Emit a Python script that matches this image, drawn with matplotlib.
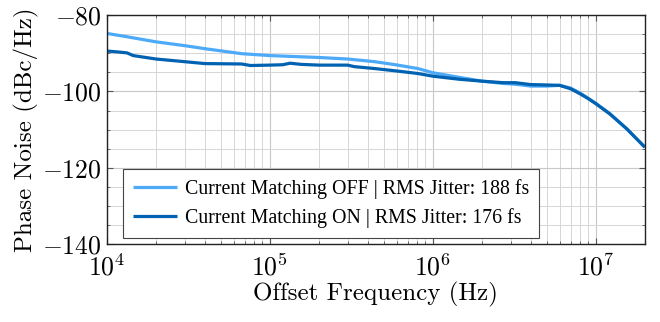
import matplotlib
matplotlib.use("Agg")
import matplotlib.pyplot as plt
from matplotlib.ticker import LogLocator, MultipleLocator, NullFormatter

# ---- data ----
freq_off = [1.0e4, 1.3e4, 2.0e4, 3.0e4, 4.0e4, 6.7e4, 1.0e5, 2.0e5, 3.0e5, 4.4e5,
            5.9e5, 8.1e5, 1.0e6, 1.45e6, 2.0e6, 2.7e6, 3.2e6, 4.0e6, 5.0e6, 6.0e6,
            7.0e6, 8.0e6, 9.0e6, 1.0e7, 1.22e7, 1.55e7, 2.0e7]
pn_off = [-84.8, -85.6, -87.0, -88.0, -88.8, -90.1, -90.6, -91.1, -91.5, -92.2,
          -93.0, -94.0, -95.1, -96.3, -97.3, -97.9, -98.1, -98.6, -98.6, -98.4,
          -99.1, -100.4, -101.8, -103.1, -105.8, -109.8, -114.6]

freq_on = [1.0e4, 1.2e4, 1.33e4, 1.45e4, 2.0e4, 3.0e4, 4.0e4, 6.7e4, 7.6e4, 1.0e5,
           1.2e5, 1.33e5, 1.55e5, 2.0e5, 3.0e5, 3.3e5, 4.4e5, 5.9e5, 8.1e5, 1.0e6,
           1.45e6, 2.0e6, 2.7e6, 3.2e6, 4.0e6, 5.0e6, 6.0e6, 7.0e6, 8.0e6, 9.0e6,
           1.0e7, 1.22e7, 1.55e7, 2.0e7]
pn_on = [-89.4, -89.7, -89.9, -90.6, -91.5, -92.2, -92.7, -92.8, -93.2, -93.1,
         -93.0, -92.6, -92.9, -93.1, -93.1, -93.5, -94.0, -94.6, -95.3, -96.0,
         -96.8, -97.3, -97.7, -97.7, -98.2, -98.3, -98.4, -99.3, -100.6, -101.9,
         -103.2, -105.9, -109.8, -114.6]

labels = ["Current Matching OFF | RMS Jitter: 188 fs",
          "Current Matching ON | RMS Jitter: 176 fs"]
colors = ["#4daaf8", "#0062b0"]

# ---- style ----
plt.rcParams["font.family"] = ["cmr10"]
plt.rcParams["mathtext.fontset"] = "cm"
plt.rcParams["axes.formatter.use_mathtext"] = True
plt.rcParams["axes.unicode_minus"] = True

fig = plt.figure(figsize=(6.6, 3.22), dpi=100)
ax = fig.add_axes([0.162, 0.242, 0.815, 0.711])

ax.plot(freq_off, pn_off, color=colors[0], lw=2.3, label=labels[0], solid_capstyle="butt")
ax.plot(freq_on, pn_on, color=colors[1], lw=2.3, label=labels[1], solid_capstyle="butt")

ax.set_xscale("log")
ax.set_xlim(1e4, 2e7)
ax.set_ylim(-140, -80)
ax.yaxis.set_major_locator(MultipleLocator(20))
ax.yaxis.set_minor_locator(MultipleLocator(5))
ax.xaxis.set_major_locator(LogLocator(base=10, numticks=10))
ax.xaxis.set_minor_locator(LogLocator(base=10, subs=range(2, 10), numticks=20))
ax.xaxis.set_minor_formatter(NullFormatter())

ax.grid(True, which="major", color="#c8c8c8", lw=0.8)
ax.grid(True, which="minor", color="#d6d6d6", lw=0.7)
ax.set_axisbelow(True)

ax.tick_params(which="both", direction="in", top=True, right=True, labelsize=18.5,
               color="#555555")
ax.tick_params(which="major", length=4, width=0.8)
ax.tick_params(which="minor", length=2.5, width=0.6)
ax.tick_params(axis="x", pad=7)
ax.tick_params(axis="y", pad=4)
for s in ax.spines.values():
    s.set_linewidth(1.0)
    s.set_color("#222222")

ax.set_xlabel("Offset Frequency (Hz)", fontsize=18, labelpad=1)
ax.set_ylabel("Phase Noise (dBc/Hz)", fontsize=18, labelpad=2)

leg = ax.legend(loc="lower left", bbox_to_anchor=(0.030, 0.027),
                prop={"family": "Liberation Serif", "size": 14.3},
                fancybox=False, framealpha=1, edgecolor="#444444",
                handlelength=2.2, handletextpad=0.43, borderpad=0.5,
                labelspacing=0.45, borderaxespad=0)
leg.get_frame().set_linewidth(0.8)

fig.savefig("out.png", dpi=100)
